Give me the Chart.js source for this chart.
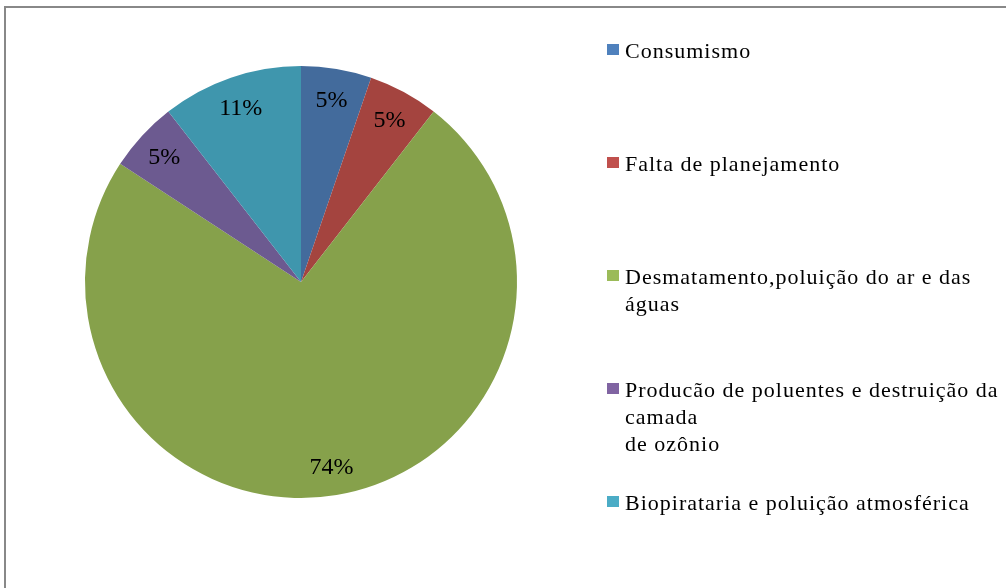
<!DOCTYPE html>
<html>
<head>
<meta charset="utf-8">
<script src="https://cdn.jsdelivr.net/npm/chart.js@4.4.1/dist/chart.umd.min.js"></script>
<style>
  html, body { margin: 0; padding: 0; background: #ffffff; overflow: hidden; }
  #wrap { position: relative; width: 1006px; height: 588px; }
  #frame {
    position: absolute; left: 4px; top: 6px; width: 1100px; height: 700px;
    border: 2px solid #888888; box-sizing: border-box;
  }
  canvas { position: absolute; left: 0; top: 0; }
</style>
</head>
<body>
<div id="wrap">
  <div id="frame"></div>
  <canvas id="chart1" width="1006" height="588"></canvas>
</div>
<script>
// Categories (legend text, line breaks as in the picture)
const categories = [
  ['Consumismo'],
  ['Falta de planejamento'],
  ['Desmatamento,poluição do ar e das', 'águas'],
  ['Producão de poluentes e destruição da', 'camada', 'de ozônio'],
  ['Biopirataria e poluição atmosférica'],
];
// Number of answers per category
const answers = [1, 1, 14, 1, 2];
// Percent labels as printed on the slices
const percentLabels = ['5%', '5%', '74%', '5%', '11%'];

const sliceColors = ['#436b9c', '#a4443f', '#86a14b', '#6c5a90', '#3f96ad'];
const legendColors = ['#4f81bd', '#c0504d', '#9bbb59', '#8064a2', '#4bacc6'];

// Draws the percent text inside each slice, near the outer edge
const sliceLabels = {
  id: 'sliceLabels',
  afterDatasetsDraw(chart) {
    const ctx = chart.ctx;
    const meta = chart.getDatasetMeta(0);
    ctx.save();
    ctx.font = '24px "Liberation Serif", "Times New Roman", serif';
    ctx.fillStyle = '#000000';
    ctx.textAlign = 'center';
    ctx.textBaseline = 'middle';
    meta.data.forEach((arc, i) => {
      const p = arc.getProps(['x', 'y', 'startAngle', 'endAngle', 'outerRadius'], true);
      const mid = (p.startAngle + p.endAngle) / 2;
      const r = p.outerRadius * 0.86;
      ctx.fillText(percentLabels[i], p.x + Math.cos(mid) * r, p.y + Math.sin(mid) * r + 2);
    });
    ctx.restore();
  },
};

// Legend on the right: one square per item, multi-line labels
const sideLegend = {
  id: 'sideLegend',
  afterDraw(chart) {
    const ctx = chart.ctx;
    ctx.save();
    ctx.font = '22px "Liberation Serif", "Times New Roman", serif';
    ctx.fillStyle = '#000000';
    ctx.textBaseline = 'alphabetic';
    if ('letterSpacing' in ctx) ctx.letterSpacing = '1px';
    categories.forEach((lines, i) => {
      const top = 44 + i * 113;
      ctx.fillStyle = legendColors[i];
      ctx.fillRect(607, top, 12, 11);
      ctx.fillStyle = '#000000';
      lines.forEach((line, j) => {
        ctx.fillText(line, 625, top + 14 + j * 27);
      });
    });
    ctx.restore();
  },
};

const chart1 = new Chart(document.getElementById('chart1').getContext('2d'), {
  type: 'pie',
  data: {
    labels: categories.map(c => c.join(' ')),
    datasets: [
      {
        data: answers,
        backgroundColor: sliceColors,
        borderWidth: 0,
      },
    ],
  },
  options: {
    responsive: false,
    animation: false,
    layout: {
      padding: { left: 85, top: 66, right: 489, bottom: 90 },
    },
    plugins: {
      legend: { display: false },
      tooltip: { enabled: false },
      title: { display: false },
    },
  },
  plugins: [sliceLabels, sideLegend],
});
</script>
</body>
</html>
